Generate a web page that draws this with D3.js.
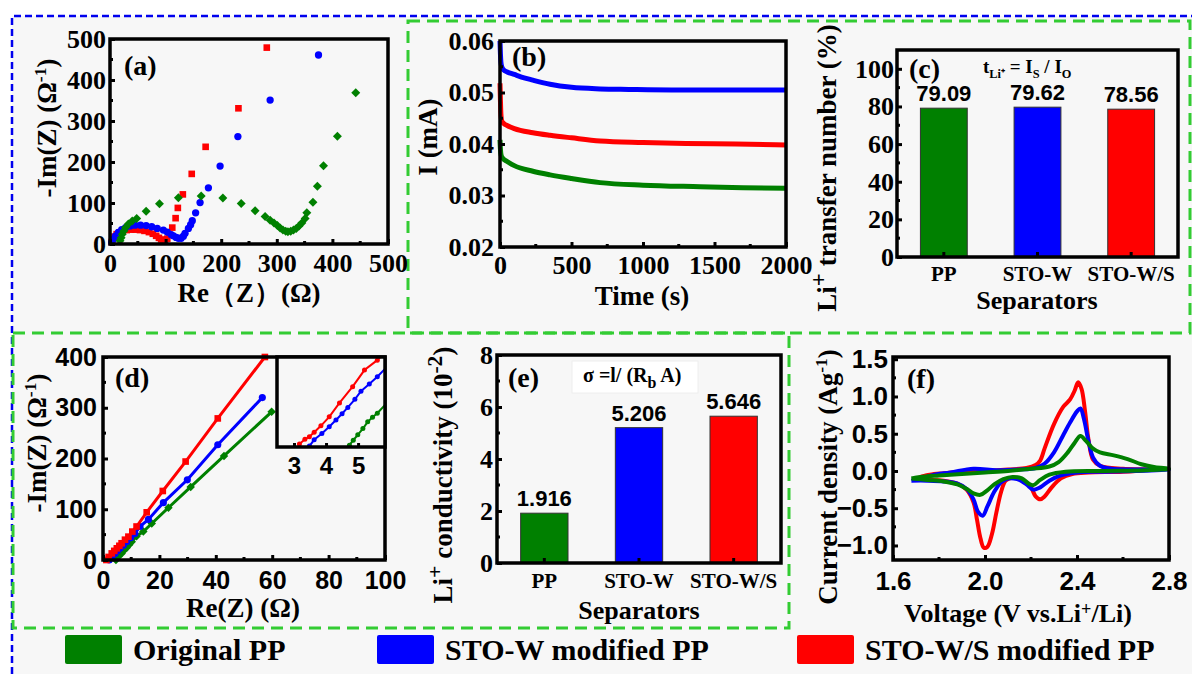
<!DOCTYPE html>
<html>
<head>
<meta charset="utf-8">
<script src="https://cdn.jsdelivr.net/npm/d3@7"></script>
<style>
  body { margin: 0; background: #fff; }
  svg { display: block; }
</style>
</head>
<body>
<svg id="fig" width="1192" height="674"></svg>
<script>
// ---------- data ----------
const separators = ['PP', 'STO-W', 'STO-W/S']
const seriesNames = ['Original PP', 'STO-W modified PP', 'STO-W/S modified PP']
const colors = ['#008000', '#0000ff', '#ff0000']

// (a) Nyquist plots [Re(Z), -Im(Z)]
const nyqPP = [[18,8],[20,15],[22,24],[25,32],[28,40],[33,49],[40,56],[48,62],[65,80],[89,98],[123,113],[164,117],[203,112],
  [236,99],[261,81],[279,67],[288,58],[295,51],[301,45],[306,39],[311,34],[316,31],[320,30],[325,31],[330,34],[335,38],
  [340,44],[345,51],[351,62],[354,76],[365,102],[373,141],[384,191],[409,263],[442,369]]
const nyqW = [[3,4],[6,12],[10,20],[15,28],[21,35],[28,40],[36,44],[45,46],[55,46],[65,45],[75,42],[85,38],[96,34],
  [103,29],[110,23],[114,20],[119,16],[123,14],[128,14],[132,19],[135,26],[141,38],[145,47],[148,57],[154,76],[162,101],
  [177,137],[198,190],[230,262],[288,351],[375,461]]
const nyqWS = [[3,5],[5,12],[8,18],[12,24],[17,28],[23,32],[30,34],[38,35],[46,35],[54,34],[62,32],[70,29],[77,25],
  [83,20],[88,15],[92,11],[96,9],[99,8],[103,13],[107,22],[112,40],[118,63],[122,88],[131,121],[147,171],[172,237],
  [231,331],[282,479]]

// (b) current vs time [s, mA]
const caPP = [[0,0.0408],[3,0.0390],[8,0.0378],[20,0.0372],[50,0.0366],[100,0.0358],[230,0.0347],[350,0.0340],[500,0.0333],
  [700,0.0325],[1000,0.0320],[1400,0.0317],[1700,0.0315],[2000,0.0314]]
const caW = [[0,0.0600],[3,0.0575],[6,0.0560],[12,0.0550],[25,0.0544],[50,0.0540],[100,0.0535],[150,0.0530],[230,0.0524],
  [350,0.0516],[500,0.0510],[700,0.0507],[900,0.0506],[1200,0.0505],[1500,0.0505],[1800,0.0505],[2000,0.0505]]
const caWS = [[0,0.0518],[3,0.0485],[6,0.0460],[12,0.0445],[25,0.0440],[50,0.0436],[100,0.0430],[230,0.0422],[350,0.0417],
  [500,0.0412],[700,0.0406],[1000,0.0403],[1300,0.0401],[1650,0.0400],[2000,0.0398]]

// (c) Li+ transfer number (%)
const transferNumber = [79.09, 79.62, 78.56]

// (d) stainless steel blocking cells [Re(Z), -Im(Z)]
const ssPP = [[4.6,0],[5.5,7],[6.6,13],[7.5,19],[8.4,24],[9.3,30],[10.2,36],[11.9,47],[14.3,56],[17.3,72],[23.2,103],
  [31.1,144],[42.9,205],[59.8,292]]
const ssW = [[2.2,0],[3.2,6],[4.3,13],[5.1,18],[6,23],[7.2,29],[8.4,36],[9.8,44],[11.3,52],[13.1,66],[16.1,80],[21.4,113],
  [29.9,158],[40.7,227],[56.5,320]]
const ssWS = [[1.2,0],[2,6],[3.1,13],[4,18],[4.9,23],[5.8,28],[6.6,33],[7.8,40],[9,46],[10.4,56],[11.9,66],[15.5,94],
  [21.2,136],[29.3,194],[40.7,279],[57.4,400]]
// inset of (d)
const insetPP = [[4.6,-0.5],[4.73,0.4],[4.85,1.5],[4.99,2.7],[5.15,4.1],[5.3,5.6],[5.45,6.6],[5.6,7.5],[5.9,9.8]]
const insetW = [[3.4,-0.5],[3.48,0.2],[3.63,1.6],[3.87,3],[4.1,4.5],[4.31,6],[4.5,7.4],[4.68,8.8],[4.9,10.6],[5.09,12.4],
  [5.35,14],[5.6,15.6],[5.9,17.8]]
const insetWS = [[3.1,-0.5],[3.17,0.67],[3.34,1.7],[3.48,2.3],[3.63,3.3],[3.84,4.7],[4.1,6.7],[4.42,9.8],[4.83,13.4],
  [5.2,17.1],[5.6,19.3],[5.9,21.5]]

// (e) Li+ conductivity (10^-2)
const conductivity = [1.916, 5.206, 5.646]

// (f) cyclic voltammetry [V, A/g]
const cvPP = [[1.68,-0.10],[1.72,-0.08],[1.80,-0.06],[1.90,-0.04],[2.00,-0.02],[2.10,0.00],[2.20,0.03],[2.28,0.06],[2.32,0.12],
  [2.36,0.25],[2.39,0.38],[2.415,0.47],[2.44,0.40],[2.47,0.30],[2.50,0.25],[2.56,0.21],[2.62,0.16],[2.68,0.09],[2.74,0.05],
  [2.80,0.03],[2.70,0.01],[2.50,0.00],[2.35,-0.01],[2.28,-0.05],[2.24,-0.12],[2.21,-0.19],[2.19,-0.17],[2.16,-0.10],
  [2.12,-0.08],[2.08,-0.11],[2.04,-0.18],[2.01,-0.26],[1.98,-0.32],[1.95,-0.30],[1.92,-0.24],[1.88,-0.18],[1.82,-0.14],
  [1.75,-0.12],[1.68,-0.10]]
const cvW = [[1.68,-0.13],[1.72,-0.10],[1.78,-0.05],[1.85,-0.02],[1.95,0.03],[2.05,0.01],[2.15,0.02],[2.22,0.04],[2.26,0.10],
  [2.30,0.25],[2.34,0.48],[2.37,0.65],[2.40,0.80],[2.415,0.84],[2.43,0.70],[2.45,0.40],[2.47,0.18],[2.50,0.07],[2.55,0.03],
  [2.65,0.02],[2.80,0.02],[2.65,0.00],[2.50,-0.01],[2.40,-0.02],[2.33,-0.06],[2.28,-0.13],[2.24,-0.22],[2.21,-0.25],
  [2.18,-0.18],[2.14,-0.11],[2.10,-0.10],[2.07,-0.15],[2.04,-0.28],[2.01,-0.48],[1.99,-0.60],[1.97,-0.55],[1.95,-0.38],
  [1.92,-0.24],[1.88,-0.17],[1.82,-0.14],[1.75,-0.13],[1.68,-0.13]]
const cvWS = [[1.70,-0.12],[1.72,-0.08],[1.76,-0.05],[1.82,-0.03],[1.90,-0.01],[2.00,0.00],[2.10,0.02],[2.18,0.04],[2.22,0.08],
  [2.24,0.14],[2.26,0.31],[2.30,0.63],[2.34,0.86],[2.37,0.96],[2.39,1.08],[2.405,1.19],[2.42,1.10],[2.435,0.80],[2.45,0.42],
  [2.47,0.15],[2.50,0.07],[2.60,0.03],[2.72,0.02],[2.60,-0.01],[2.45,-0.02],[2.38,-0.04],[2.33,-0.10],[2.29,-0.22],
  [2.26,-0.34],[2.24,-0.38],[2.22,-0.34],[2.20,-0.22],[2.17,-0.13],[2.12,-0.09],[2.09,-0.13],[2.07,-0.28],[2.05,-0.55],
  [2.03,-0.85],[2.01,-1.02],[1.995,-1.03],[1.98,-0.90],[1.965,-0.65],[1.95,-0.42],[1.92,-0.25],[1.88,-0.17],[1.82,-0.13],
  [1.76,-0.12],[1.70,-0.12]]

// tick labels
const ticksA = [0, 100, 200, 300, 400, 500]
const ticksBx = [0, 500, 1000, 1500, 2000]
const ticksBy = [0.02, 0.03, 0.04, 0.05, 0.06]
const ticksC = [0, 20, 40, 60, 80, 100]
const ticksDx = [0, 20, 40, 60, 80, 100]
const ticksDy = [0, 100, 200, 300, 400]
const ticksInset = [3, 4, 5]
const ticksE = [0, 2, 4, 6, 8]
const ticksFx = [1.6, 2.0, 2.4, 2.8]
const ticksFy = [-1.0, -0.5, 0.0, 0.5, 1.0, 1.5]

// ---------- drawing ----------
const SERIF = '"Liberation Serif", "Times New Roman", serif'
const SANS = '"Liberation Sans", Arial, sans-serif'
const svg = d3.select('#fig')

// background and dashed group boxes
svg.append('rect').attr('x', 12).attr('y', 16).attr('width', 1180).attr('height', 658).attr('fill', '#f7f7f7')
svg.append('path').attr('d', 'M12,674V16H1192').attr('fill', 'none')
  .attr('stroke', '#0000ee').attr('stroke-width', 2.5).attr('stroke-dasharray', '7,4')
const dashBox = (x0, y0, x1, y1) => svg.append('rect')
  .attr('x', x0).attr('y', y0).attr('width', x1 - x0).attr('height', y1 - y0)
  .attr('fill', 'none').attr('stroke', '#33cc33').attr('stroke-width', 3).attr('stroke-dasharray', '12,7')
dashBox(408, 21, 1190, 333)
dashBox(13, 333, 789, 628)

// text with super/subscripts: parts = ['plain', ['sup text', 'sup'], ...]
function rich(g, x, y, parts, o) {
  const size = o.size
  const t = g.append('text').attr('x', x).attr('y', y)
    .attr('font-family', o.font || SERIF).attr('font-weight', 'bold')
    .attr('font-size', size).attr('text-anchor', o.anchor || 'start').attr('fill', '#000')
  if (o.rotate) t.attr('transform', `rotate(-90,${x},${y})`)
  let shift = 0
  parts.forEach(p => {
    const [s, kind] = Array.isArray(p) ? p : [p, '']
    const target = kind === 'sup' ? -size * (o.lift || 0.38) : kind === 'sub' ? size * 0.28 : 0
    t.append('tspan').attr('dy', target - shift)
      .attr('font-size', kind ? size * (o.small || 0.65) : size).text(s)
    shift = target
  })
  return t
}

function axes(g, x, y, o) {
  const h = y.range()[0]
  const font = o.font || SERIF
  const size = o.size || 26
  const bx = d3.axisBottom(x).tickSizeInner(-5).tickSizeOuter(0).tickPadding(o.xPad)
  if (o.xTicks) bx.tickValues(o.xTicks)
  if (o.xFmt) bx.tickFormat(o.xFmt)
  const gx = g.append('g').attr('transform', `translate(0,${h})`).call(bx)
  const ly = d3.axisLeft(y).tickValues(o.yTicks).tickSizeInner(-5).tickSizeOuter(0).tickPadding(o.yPad)
  if (o.yFmt) ly.tickFormat(o.yFmt)
  const gy = g.append('g').call(ly)
  ;[gx, gy].forEach(a => {
    a.select('.domain').remove()
    a.selectAll('line').attr('stroke', '#000').attr('stroke-width', 3)
    a.selectAll('text').attr('font-family', font).attr('font-weight', 'bold')
      .attr('font-size', o.xSize && a === gx ? o.xSize : size).attr('fill', '#000')
  })
  gx.selectAll('text').attr('dy', '0.71em')
  if (o.xMinor) {
    g.append('g').selectAll('line').data(o.xMinor).join('line')
      .attr('x1', d => x(d)).attr('x2', d => x(d)).attr('y1', h).attr('y2', h - 3)
      .attr('stroke', '#000').attr('stroke-width', 3)
  }
  if (o.yMinor) {
    g.append('g').selectAll('line').data(o.yMinor).join('line')
      .attr('y1', d => y(d)).attr('y2', d => y(d)).attr('x1', 0).attr('x2', 3)
      .attr('stroke', '#000').attr('stroke-width', 3)
  }
}

function frame(g, w, h) {
  g.append('rect').attr('width', w).attr('height', h)
    .attr('fill', 'none').attr('stroke', '#000').attr('stroke-width', 3.5)
}

function panel(x0, y0) {
  return svg.append('g').attr('transform', `translate(${x0},${y0})`)
}

const range = (a, b, s) => d3.range(a, b + s / 2, s)

// ----- (a) -----
{
  const W = 278, H = 205
  const g = panel(110, 39)
  const x = d3.scaleLinear().domain([0, 500]).range([0, W])
  const y = d3.scaleLinear().domain([0, 500]).range([H, 0])
  const marks = [
    { data: nyqWS, type: d3.symbolSquare, size: 44, rot: 0, color: colors[2] },
    { data: nyqW, type: d3.symbolCircle, size: 42, rot: 0, color: colors[1] },
    { data: nyqPP, type: d3.symbolSquare, size: 40, rot: 45, color: colors[0] }
  ]
  marks.forEach(m => {
    g.append('g').selectAll('path').data(m.data).join('path')
      .attr('d', d3.symbol().type(m.type).size(m.size))
      .attr('transform', d => `translate(${x(d[0])},${y(d[1])}) rotate(${m.rot})`)
      .attr('fill', m.color)
  })
  axes(g, x, y, { xTicks: ticksA, yTicks: ticksA, xMinor: range(50, 450, 100), yMinor: range(50, 450, 100), xPad: 9.5, yPad: 4 })
  frame(g, W, H)
  rich(g, 14, 36, ['(a)'], { size: 28 })
  rich(svg, 249, 302, ['Re\uFF08Z\uFF09(\u03A9)'], { size: 27, anchor: 'middle' })
  rich(svg, 56, 128, ['-Im(Z) (\u03A9', ['-1', 'sup'], ')'], { size: 27, anchor: 'middle', rotate: true })
}

// ----- (b) -----
{
  const W = 286, H = 206
  const g = panel(500, 41)
  const x = d3.scaleLinear().domain([0, 2000]).range([0, W])
  const y = d3.scaleLinear().domain([0.02, 0.06]).range([H, 0])
  const line = d3.line().x(d => x(d[0])).y(d => y(d[1])).curve(d3.curveMonotoneX)
  ;[[caW, colors[1]], [caWS, colors[2]], [caPP, colors[0]]].forEach(([d, c]) => {
    g.append('path').attr('d', line(d)).attr('fill', 'none').attr('stroke', c).attr('stroke-width', 5)
  })
  axes(g, x, y, { xTicks: ticksBx, xFmt: d3.format('d'), yTicks: ticksBy, yFmt: d3.format('.2f'),
    xMinor: range(250, 1750, 500), yMinor: range(0.025, 0.055, 0.01), xPad: 8.5, yPad: 6 })
  frame(g, W, H)
  rich(g, 12, 25, ['(b)'], { size: 28 })
  rich(svg, 642, 305, ['Time (s)'], { size: 27, anchor: 'middle' })
  rich(svg, 437, 137, ['I (mA)'], { size: 27, anchor: 'middle', rotate: true })
}

// ----- bar panels (c) and (e) -----
function bars(x0, y0, W, H, vals, yMax, o) {
  const g = panel(x0, y0)
  const x = d3.scaleBand().domain(separators).range([0, W]).paddingInner(0.5).paddingOuter(0.25)
  const y = d3.scaleLinear().domain([0, yMax]).range([H, 0])
  g.selectAll('rect.bar').data(vals).join('rect').attr('class', 'bar')
    .attr('x', (d, i) => x(separators[i])).attr('width', x.bandwidth())
    .attr('y', d => y(d)).attr('height', d => H - y(d))
    .attr('fill', (d, i) => colors[i]).attr('stroke', '#333').attr('stroke-width', 1)
  g.selectAll('text.val').data(vals).join('text').attr('class', 'val')
    .attr('x', (d, i) => x(separators[i]) + x.bandwidth() / 2).attr('y', d => y(d) - 7)
    .attr('text-anchor', 'middle').attr('font-family', SANS).attr('font-weight', 'bold')
    .attr('font-size', 22).text(d => d.toFixed(o.digits))
  axes(g, x, y, { yTicks: o.yTicks, yMinor: o.yMinor, xPad: o.xPad, yPad: o.yPad, xSize: 21 })
  frame(g, W, H)
  return g
}

{
  const g = bars(897, 50, 281, 207, transferNumber, 110, { digits: 2, yTicks: ticksC, yMinor: range(10, 90, 20), xPad: 9.5, yPad: 3 })
  rich(g, 12, 28, ['(c)'], { size: 28 })
  rich(g, 86, 23, ['t', ['Li\u207A', 'sub'], ' = I', ['S', 'sub'], ' / I', ['O', 'sub']], { size: 19 })
  rich(svg, 1037, 309, ['Separators'], { size: 26, anchor: 'middle' })
  rich(svg, 836, 168, ['Li', ['+', 'sup'], ' transfer number (%)'], { size: 27, anchor: 'middle', rotate: true, small: 0.85 })
}

{
  const g = bars(497, 355, 284, 208, conductivity, 8, { digits: 3, yTicks: ticksE, yMinor: range(1, 7, 2), xPad: 10, yPad: 4 })
  g.append('rect').attr('x', 75).attr('y', 6).attr('width', 126).attr('height', 32)
    .attr('fill', '#fff').attr('stroke', '#eee')
  rich(g, 11, 32, ['(e)'], { size: 28 })
  rich(g, 86, 27, ['\u03C3 =l/ (R', ['b', 'sub'], ' A)'], { size: 20, small: 0.8 })
  rich(svg, 639, 619, ['Separators'], { size: 26, anchor: 'middle' })
  rich(svg, 452, 475, ['Li', ['+', 'sup'], ' conductivity (10', ['-2', 'sup'], ')'], { size: 27, anchor: 'middle', rotate: true, small: 0.8 })
}

// ----- (d) -----
{
  const W = 282, H = 203
  const g = panel(103, 357)
  const x = d3.scaleLinear().domain([0, 100]).range([0, W])
  const y = d3.scaleLinear().domain([0, 400]).range([H, 0])
  const line = d3.line().x(d => x(d[0])).y(d => y(d[1]))
  const sets = [
    { data: ssPP, type: d3.symbolSquare, size: 36, rot: 45, color: colors[0] },
    { data: ssW, type: d3.symbolCircle, size: 40, rot: 0, color: colors[1] },
    { data: ssWS, type: d3.symbolSquare, size: 44, rot: 0, color: colors[2] }
  ]
  sets.forEach(m => {
    g.append('path').attr('d', line(m.data)).attr('fill', 'none').attr('stroke', m.color).attr('stroke-width', 3)
    g.append('g').selectAll('path').data(m.data).join('path')
      .attr('d', d3.symbol().type(m.type).size(m.size))
      .attr('transform', d => `translate(${x(d[0])},${y(d[1])}) rotate(${m.rot})`)
      .attr('fill', m.color)
  })
  axes(g, x, y, { xTicks: ticksDx, yTicks: ticksDy, xMinor: range(10, 90, 20), yMinor: range(50, 350, 100),
    xPad: 11, yPad: 6, font: SANS, size: 25 })
  frame(g, W, H)
  rich(g, 12, 30, ['(d)'], { size: 28 })

  // inset
  const IW = 108, IH = 90
  const ig = panel(277, 357)
  const ix = d3.scaleLinear().domain([2.47, 5.84]).range([0, IW])
  const iy = d3.scaleLinear().domain([0, 20]).range([IH, 0])
  ig.append('clipPath').attr('id', 'insetClip').append('rect').attr('width', IW).attr('height', IH)
  ig.append('rect').attr('width', IW).attr('height', IH).attr('fill', '#f7f7f7')
  const ic = ig.append('g').attr('clip-path', 'url(#insetClip)')
  const iline = d3.line().x(d => ix(d[0])).y(d => iy(d[1]))
  ;[[insetPP, colors[0]], [insetW, colors[1]], [insetWS, colors[2]]].forEach(([d, c]) => {
    ic.append('path').attr('d', iline(d)).attr('fill', 'none').attr('stroke', c).attr('stroke-width', 2)
    ic.append('g').selectAll('circle').data(d).join('circle')
      .attr('cx', p => ix(p[0])).attr('cy', p => iy(p[1])).attr('r', 2.5).attr('fill', c)
  })
  const ia = ig.append('g').attr('transform', `translate(0,${IH})`)
    .call(d3.axisBottom(ix).tickValues(ticksInset).tickFormat(d3.format('d')).tickSizeInner(-4).tickSizeOuter(0).tickPadding(10))
  ia.select('.domain').remove()
  ia.selectAll('line').attr('stroke', '#000').attr('stroke-width', 3)
  ia.selectAll('text').attr('font-family', SANS).attr('font-weight', 'bold').attr('font-size', 24).attr('fill', '#000')
  ig.append('rect').attr('width', IW).attr('height', IH)
    .attr('fill', 'none').attr('stroke', '#000').attr('stroke-width', 3.5)

  rich(svg, 243, 617, ['Re(Z) (\u03A9)'], { size: 27, anchor: 'middle' })
  rich(svg, 46, 443, ['-Im(Z) (\u03A9', ['-1', 'sup'], ')'], { size: 27, anchor: 'middle', rotate: true })
}

// ----- (f) -----
{
  const W = 276, H = 203
  const g = panel(893, 357)
  const x = d3.scaleLinear().domain([1.6, 2.8]).range([0, W])
  const y = d3.scaleLinear().domain([-1.195, 1.53]).range([H, 0])
  const line = d3.line().x(d => x(d[0])).y(d => y(d[1])).curve(d3.curveCatmullRom.alpha(0.5))
  ;[[cvWS, colors[2]], [cvW, colors[1]], [cvPP, colors[0]]].forEach(([d, c]) => {
    g.append('path').attr('d', line(d)).attr('fill', 'none').attr('stroke', c)
      .attr('stroke-width', 4).attr('stroke-linejoin', 'round')
  })
  axes(g, x, y, { xTicks: ticksFx, yTicks: ticksFy, xFmt: d3.format('.1f'), yFmt: d3.format('.1f'),
    xMinor: [1.8, 2.2, 2.6], yMinor: range(-0.75, 1.25, 0.5), xPad: 11.5, yPad: 5, font: SANS, size: 26 })
  frame(g, W, H)
  rich(g, 14, 31, ['(f)'], { size: 28 })
  rich(svg, 1018, 622, ['Voltage (V vs.Li', ['+', 'sup'], '/Li)'], { size: 26, anchor: 'middle', small: 0.7, lift: 0.28 })
  rich(svg, 837, 477, ['Current density (Ag', ['-1', 'sup'], ')'], { size: 27, anchor: 'middle', rotate: true })
}

// ----- legend -----
const legendX = [65, 377, 797]
seriesNames.forEach((name, i) => {
  svg.append('rect').attr('x', legendX[i]).attr('y', 635).attr('width', 57).attr('height', 29)
    .attr('rx', 2).attr('fill', colors[i])
  rich(svg, legendX[i] + 68, 660, [name], { size: 30 })
})
</script>
</body>
</html>
